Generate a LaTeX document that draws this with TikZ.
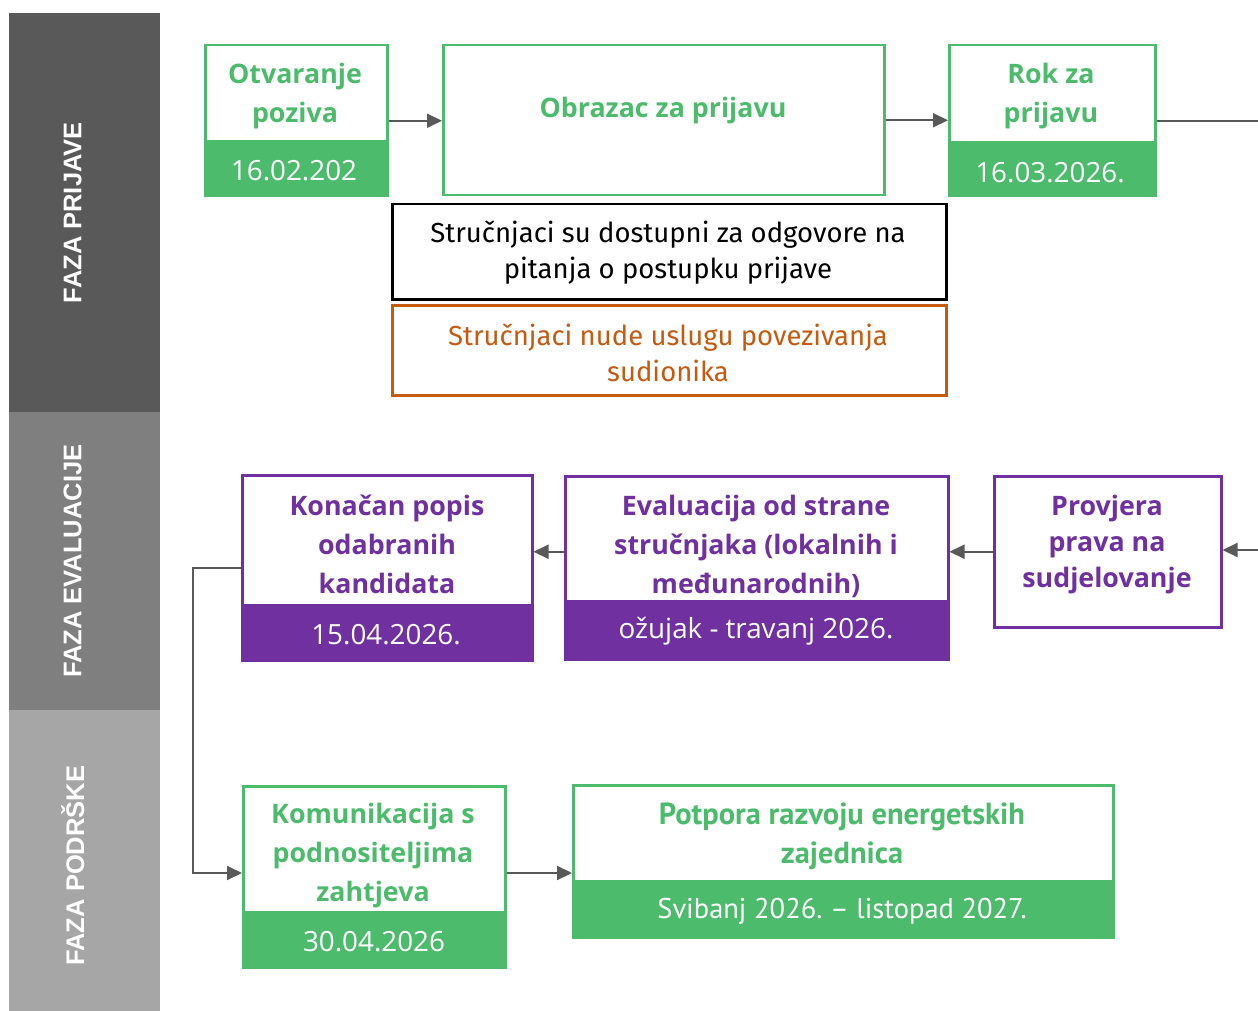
\documentclass[tikz,border=0pt]{standalone}
\usepackage{fontspec}
\setmainfont{Open Sans}
\newfontfamily\fira{Fira Sans}
\newfontfamily\ptsans{PT Sans}
\newfontfamily\arial{Liberation Sans}
\usetikzlibrary{arrows.meta}
\definecolor{grn}{RGB}{76,187,108}
\definecolor{prp}{RGB}{112,48,160}
\definecolor{org}{RGB}{197,90,17}
\definecolor{arrg}{RGB}{89,89,89}
\definecolor{ph1}{RGB}{89,89,89}
\definecolor{ph2}{RGB}{127,127,127}
\definecolor{ph3}{RGB}{166,166,166}
\begin{document}
\begin{tikzpicture}[x=1pt,y=-1pt,
  box/.style={draw, line width=2.5pt, inner sep=0pt, anchor=north west},
  gbox/.style={box, draw=grn},
  pbox/.style={box, draw=prp},
  phase/.style={anchor=north west, inner sep=0pt, draw=none},
  phlabel/.style={rotate=90, text=white, font=\arial\bfseries\fontsize{25.5}{30}\selectfont},
  title/.style={align=center, inner sep=0pt, font=\bfseries\fontsize{26.8}{39}\selectfont},
  gtitle/.style={title, text=grn},
  ptitle/.style={title, text=prp},
  datetxt/.style={inner sep=0pt, text=white, font=\fontsize{27.8}{32}\selectfont},
  note/.style={align=center, inner sep=0pt, font=\fira\fontsize{27.5}{36}\selectfont},
  arr/.style={draw=arrg, line width=2pt, -{Triangle[length=15pt,width=14pt]}},
  ln/.style={draw=arrg, line width=2pt}
]
\useasboundingbox (0,0) rectangle (1258,1011);
\fill[white] (0,0) rectangle (1258,1011);

% phase bars
\node[phase, fill=ph1, minimum width=151, minimum height=399] (p1) at (9,13) {};
\node[phase, fill=ph2, minimum width=151, minimum height=298] (p2) at (9,412) {};
\node[phase, fill=ph3, minimum width=151, minimum height=301] (p3) at (9,710) {};
\node[phlabel] (l1) at ([xshift=-12pt]p1.center) {FAZA PRIJAVE};
\node[phlabel] (l2) at ([xshift=-12pt]p2.center) {FAZA EVALUACIJE};
\node[phlabel] (l3) at ([xshift=-12pt,yshift=-5pt]p3.center) {FAZA PODRŠKE};

% top row
\node[gbox, minimum width=182, minimum height=151] (otv) at (204,44) {};
\fill[grn] (otv.south west) rectangle (otv.east |- 0,140);
\node[gtitle] (otvT) at (295,96) {Otvaranje\\poziva};
\node[datetxt] (otvD) at (294,171) {16.02.202};

\node[gbox, minimum width=441, minimum height=150] (obr) at (442,44) {};
\node[gtitle] (obrT) at (663,111) {Obrazac za prijavu};

\node[gbox, minimum width=206, minimum height=151] (rok) at (948,44) {};
\fill[grn] (rok.south west) rectangle (rok.east |- 0,141);
\node[gtitle] (rokT) at (1051,96) {Rok za\\prijavu};
\node[datetxt] (rokD) at (1050,173) {16.03.2026.};

\coordinate (outR) at (1258,119);
\draw[arr] (otv.east) -- (otv.east -| obr.west);
\draw[arr] (obr.east) -- (obr.east -| rok.west);
\draw[ln] (rok.east) -- (rok.east -| outR);

\node[box, draw=black, minimum width=554, minimum height=95] (exp1) at (391,203) {};
\node[note] (exp1T) at (668,253) {Stručnjaci su dostupni za odgovore na\\pitanja o postupku prijave};
\node[box, draw=org, minimum width=554, minimum height=90] (exp2) at (391,304) {};
\node[note, text=org] (exp2T) at (668,353) {Stručnjaci nude uslugu povezivanja\\sudionika};

% evaluation row
\node[pbox, minimum width=290, minimum height=185] (kon) at (241,474) {};
\fill[prp] (kon.south west) rectangle (kon.east |- 0,604);
\node[ptitle] (konT) at (387,544) {Konačan popis\\odabranih\\kandidata};
\node[datetxt] (konD) at (386,635) {15.04.2026.};

\node[pbox, minimum width=383, minimum height=183] (eva) at (564,475) {};
\fill[prp] (eva.south west) rectangle (eva.east |- 0,600);
\node[ptitle] (evaT) at (756,546) {Evaluacija od strane\\stručnjaka (lokalnih i\\međunarodnih)};
\node[datetxt] (evaD) at (756,631) {ožujak - travanj 2026.};

\node[pbox, minimum width=227, minimum height=151] (prov) at (993,475) {};
\node[ptitle, font=\bfseries\fontsize{26.8}{36}\selectfont] (provT) at (1107,545) {Provjera\\prava na\\sudjelovanje};

\coordinate (inR) at (1258,550);
\draw[arr] (inR) -- (inR -| prov.east);
\draw[arr] (prov.west) -- (prov.west -| eva.east);
\draw[arr] (prov.west -| eva.west) -- (prov.west -| kon.east);

% support row
\node[gbox, minimum width=262, minimum height=181] (kom) at (242,785) {};
\fill[grn] (kom.south west) rectangle (kom.east |- 0,911);
\node[gtitle] (komT) at (373,856) {Komunikacija s\\podnositeljima\\zahtjeva};
\node[datetxt] (komD) at (374,942) {30.04.2026};

\node[gbox, minimum width=540, minimum height=152] (pot) at (572,784) {};
\fill[grn] (pot.south west) rectangle (pot.east |- 0,880);
\node[gtitle, font=\ptsans\bfseries\fontsize{30.5}{39}\selectfont] (potT) at (842,836.5) {Potpora razvoju energetskih\\zajednica};
\node[datetxt, font=\ptsans\fontsize{28.5}{32}\selectfont] (potD) at (842,911) {Svibanj 2026.~– listopad 2027.};

\coordinate (bend) at (193,873);
\draw[ln, -{Triangle[length=15pt,width=14pt]}] (kon.west) -| (bend) -- (bend -| kom.west);
\draw[arr] (bend -| kom.east) -- (bend -| pot.west);
\end{tikzpicture}
\end{document}
